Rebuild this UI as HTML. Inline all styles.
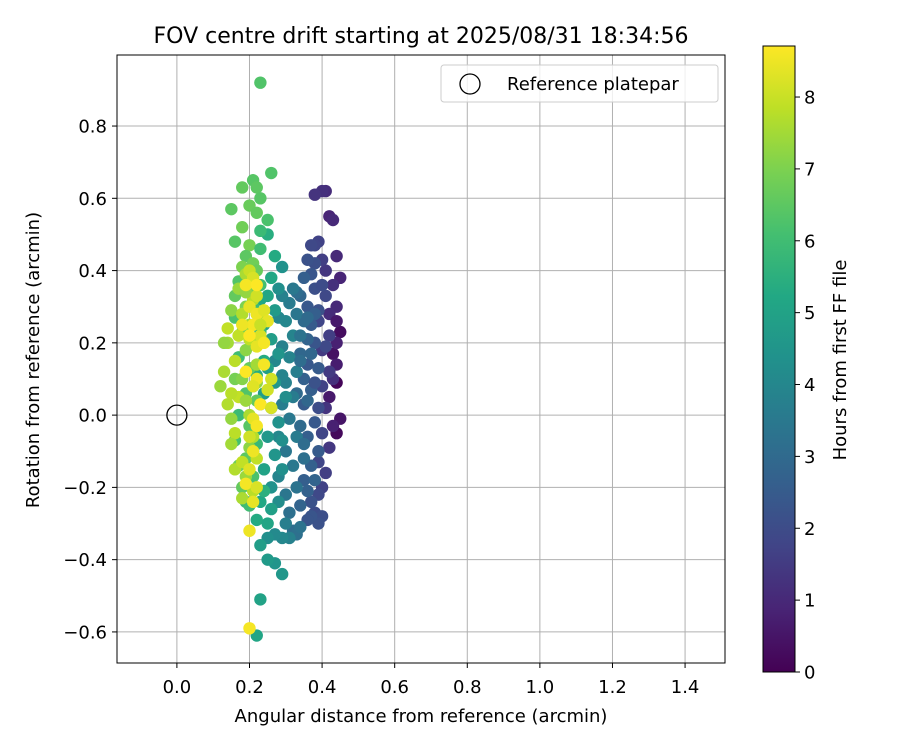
<!DOCTYPE html>
<html><head><meta charset="utf-8"><style>
body{margin:0;background:#fff;}
svg text{font-family:"DejaVu Sans","Liberation Sans",sans-serif;fill:#000;}
</style></head><body>
<svg id="chart" width="900" height="750" xmlns="http://www.w3.org/2000/svg">
<defs><linearGradient id="vir" x1="0" y1="1" x2="0" y2="0">
<stop offset="0" stop-color="#440154"/><stop offset="0.1" stop-color="#482475"/><stop offset="0.2" stop-color="#414487"/><stop offset="0.3" stop-color="#355f8d"/><stop offset="0.4" stop-color="#2a788e"/><stop offset="0.5" stop-color="#21918c"/><stop offset="0.6" stop-color="#22a884"/><stop offset="0.7" stop-color="#44bf70"/><stop offset="0.8" stop-color="#7ad151"/><stop offset="0.9" stop-color="#bddf26"/><stop offset="1" stop-color="#fde725"/>
</linearGradient>
<clipPath id="plotclip"><rect x="117" y="55" width="608" height="608"/></clipPath></defs>
<text x="421" y="43" font-size="22" text-anchor="middle">FOV centre drift starting at 2025/08/31 18:34:56</text>
<g id="grid"></g>
<g id="points" clip-path="url(#plotclip)"></g>
<rect x="117" y="55" width="608" height="608" fill="none" stroke="#000" stroke-width="1"/>
<g id="xticks"></g>
<g id="yticks"></g>
<text x="421" y="722" font-size="18" text-anchor="middle">Angular distance from reference (arcmin)</text>
<text transform="translate(39,360) rotate(-90)" font-size="18" text-anchor="middle">Rotation from reference (arcmin)</text>
<g>
<rect x="441" y="65" width="277" height="37" rx="3" fill="#fff" fill-opacity="0.8" stroke="#ccc"/>
<circle cx="470" cy="84" r="10" fill="none" stroke="#000" stroke-width="1.3"/>
<text x="507" y="90" font-size="18">Reference platepar</text>
</g>
<rect x="763" y="46" width="32" height="626" fill="url(#vir)" stroke="#000" stroke-width="1"/>
<g id="cticks"></g>
<text transform="translate(846,360) rotate(-90)" font-size="18" text-anchor="middle">Hours from first FF file</text>
</svg>
<script>
const distances=[0.44,0.44,0.45,0.43,0.45,0.42,0.44,0.43,0.45,0.42,0.43,0.44,0.41,0.40,0.38,0.44,0.42,0.44,0.43,0.41,0.42,0.43,0.41,0.44,0.42,0.40,0.41,0.40,0.39,0.40,0.39,0.38,0.37,0.42,0.40,0.39,0.41,0.38,0.39,0.40,0.41,0.39,
0.40,0.39,0.37,0.36,0.37,0.38,0.36,0.37,0.38,0.36,0.39,0.37,0.38,0.36,0.39,0.37,0.35,0.38,0.36,0.39,0.37,0.35,0.38,0.36,0.34,0.35,0.34,0.36,0.34,0.35,0.33,0.36,0.34,0.37,0.38,0.35,0.40,0.38,0.33,
0.32,0.33,0.34,0.31,0.30,0.33,0.32,0.30,0.33,0.31,0.29,0.32,0.30,0.33,0.31,0.29,0.32,0.30,0.33,0.31,0.29,0.34,0.35,0.28,0.30,0.31,0.29,0.28,0.27,0.34,0.35,0.28,0.32,0.36,0.29,
0.27,0.25,0.27,0.29,0.25,0.23,0.23,0.22,0.28,0.26,0.29,0.27,0.25,0.28,0.26,0.24,0.27,0.25,0.28,0.26,0.24,0.27,0.25,0.28,0.26,0.29,0.27,0.25,0.23,0.24,0.23,0.26,0.22,0.25,0.24,0.22,0.23,0.22,0.21,0.24,0.30,0.29,
0.26,0.23,0.21,0.22,0.18,0.23,0.20,0.15,0.25,0.22,0.18,0.23,0.16,0.20,0.23,0.19,0.21,0.18,0.22,0.17,0.20,0.23,0.16,0.19,0.22,0.16,0.18,0.21,0.17,0.20,0.16,0.19,0.22,0.17,0.20,0.16,0.19,0.21,0.18,0.19,0.20,0.22,0.21,0.23,0.21,0.17,
0.12,0.13,0.14,0.13,0.15,0.17,0.19,0.14,0.15,0.16,0.15,0.16,0.18,0.19,0.18,0.21,0.17,0.18,0.16,0.19,0.17,0.20,0.18,0.21,0.19,0.21,0.20,0.19,0.21,0.22,0.20,0.22,0.20,0.23,0.15,0.22,0.14,
0.20,0.21,0.22,0.20,0.22,0.24,0.21,0.23,0.20,0.22,0.24,0.22,0.21,0.25,0.23,0.26,0.21,0.22,0.20,0.21,0.20,0.19,0.22,0.21,0.20,0.20,0.19,0.18,0.25,0.19,0.23,0.24,0.22,0.26];
const rotations=[0.09,-0.05,0.23,0.17,-0.01,0.05,0.14,-0.03,0.38,0.55,0.54,0.30,0.62,0.62,0.61,0.44,0.28,0.20,0.10,0.02,-0.09,0.36,0.40,0.26,0.12,0.18,-0.16,-0.20,-0.13,0.43,0.48,0.47,0.47,0.22,0.08,0.26,0.33,-0.27,-0.22,-0.05,0.19,0.02,
-0.28,-0.30,-0.28,-0.29,-0.24,0.42,0.43,0.39,0.35,0.30,0.29,0.25,0.20,0.14,0.13,0.07,0.03,-0.02,-0.06,-0.10,-0.14,-0.18,-0.18,-0.21,-0.25,0.38,0.33,0.21,0.17,0.10,0.06,0.04,-0.03,0.17,0.28,0.26,0.36,0.09,0.34,
-0.32,-0.33,-0.31,-0.27,-0.22,-0.20,-0.14,-0.10,-0.06,-0.01,0.03,0.05,0.09,0.12,0.16,0.19,0.22,0.26,0.28,0.31,0.33,0.22,-0.12,-0.17,-0.30,-0.34,-0.34,0.27,0.15,0.15,-0.08,-0.06,0.35,0.27,0.11,
-0.33,-0.34,-0.41,-0.44,-0.40,-0.36,-0.51,-0.61,-0.24,-0.20,-0.15,-0.11,-0.06,-0.02,0.02,0.06,0.09,0.13,0.17,0.21,0.25,0.29,0.33,0.35,0.38,0.41,0.44,0.50,0.32,-0.15,-0.24,-0.26,-0.29,-0.30,0.15,0.11,0.03,-0.04,-0.10,-0.21,0.05,-0.07,
0.67,0.92,0.65,0.63,0.63,0.60,0.58,0.57,0.54,0.56,0.52,0.51,0.48,0.47,0.46,0.44,0.42,0.41,0.40,0.37,0.35,0.36,0.33,0.30,0.28,0.27,0.23,0.20,0.16,0.13,0.10,0.06,0.04,0.00,-0.03,-0.07,-0.12,-0.17,-0.20,-0.24,-0.25,-0.08,0.08,0.23,0.30,-0.14,
0.08,0.12,0.20,0.20,0.29,0.35,0.39,0.03,-0.01,-0.05,-0.08,-0.15,-0.13,-0.17,-0.23,-0.21,0.05,0.10,0.15,0.18,0.22,0.25,0.28,0.32,0.34,0.37,0.00,0.04,-0.06,-0.12,-0.09,0.14,0.21,0.26,0.06,0.09,0.24,
0.40,0.38,0.33,0.30,0.28,0.29,0.25,0.22,0.22,0.19,0.14,0.10,0.08,0.07,0.03,0.02,-0.01,-0.03,-0.06,-0.10,-0.15,-0.19,-0.20,-0.24,-0.32,-0.59,0.36,0.25,0.26,0.12,0.25,0.20,0.36,0.10];
const hours=[0.1,0.2,0.3,0.4,0.5,0.6,0.7,0.8,0.9,0.9,1.0,1.0,1.1,1.2,1.3,1.0,1.1,0.8,1.2,1.3,1.4,1.2,1.4,0.6,1.5,1.5,1.6,1.7,1.8,1.6,1.7,1.8,1.9,1.6,1.7,1.8,1.9,2.0,1.9,1.8,1.9,2.0,
2.1,2.2,2.3,2.3,2.2,2.1,2.2,2.3,2.1,2.4,2.2,2.5,2.3,2.4,2.5,2.6,2.5,2.4,2.6,2.5,2.7,2.6,2.8,2.7,2.8,2.6,2.9,2.8,2.9,2.7,3.0,2.9,3.0,2.9,2.6,3.0,2.0,2.2,3.1,
3.1,3.2,3.3,3.2,3.4,3.3,3.5,3.4,3.6,3.5,3.7,3.6,3.8,3.7,3.9,3.8,3.9,4.0,3.4,3.6,3.8,3.3,3.2,3.9,3.7,3.8,4.0,4.0,4.0,3.1,3.1,4.0,3.5,3.0,3.9,
4.1,4.3,4.5,4.6,4.7,4.8,5.0,5.1,4.2,4.4,4.3,4.5,4.6,4.4,4.7,4.8,4.6,4.9,4.5,4.8,5.0,4.7,5.1,4.3,5.2,4.4,5.3,5.4,5.2,5.0,5.2,4.9,5.3,5.1,5.3,5.4,5.5,5.4,5.5,5.5,4.2,4.3,
6.3,6.3,6.4,6.5,6.6,6.4,6.7,6.5,6.2,6.6,6.8,5.9,6.4,6.9,6.0,6.5,6.8,7.0,6.7,6.3,6.9,6.1,6.6,7.0,6.5,6.2,6.8,6.4,6.0,6.7,6.9,6.3,6.6,5.9,6.4,6.1,6.5,6.2,6.6,5.8,6.0,5.8,5.7,5.8,5.9,6.8,
7.4,7.6,7.5,7.3,7.2,7.4,7.6,7.7,7.3,7.8,7.5,7.7,7.9,7.4,7.6,7.8,7.9,7.1,7.8,7.2,7.9,7.5,7.7,7.8,7.3,7.9,7.6,7.4,7.7,7.9,7.2,7.5,7.9,7.7,7.8,7.3,7.9,
8.0,8.2,8.1,8.4,8.5,8.3,8.6,8.2,8.7,8.4,8.6,8.5,8.3,8.1,8.7,8.2,8.4,8.6,8.1,8.5,8.3,8.6,8.2,8.4,8.5,8.6,8.6,8.5,8.4,8.7,8.0,8.6,8.7,8.1];
const xTickLabels=["0.0","0.2","0.4","0.6","0.8","1.0","1.2","1.4"];
const yTickLabels=["−0.6","−0.4","−0.2","0.0","0.2","0.4","0.6","0.8"];
const cTickLabels=["0","1","2","3","4","5","6","7","8"];

const NS="http://www.w3.org/2000/svg";
const xMin=-0.165,xMax=1.51,yMin=-0.686,yMax=0.9966,hMax=8.71;
const X=v=>117+(v-xMin)/(xMax-xMin)*608;
const Y=v=>663-(v-yMin)/(yMax-yMin)*608;
const C=v=>672-v/hMax*626;
const stops=[[68,1,84],[72,36,117],[65,68,135],[53,95,141],[42,120,142],[33,145,140],[34,168,132],[68,191,112],[122,209,81],[189,223,38],[253,231,37]];
function vir(t){t=Math.max(0,Math.min(1,t))*10;const i=Math.min(9,Math.floor(t)),f=t-i,a=stops[i],b=stops[i+1];
return "rgb("+a.map((c,k)=>Math.round(c+(b[k]-c)*f)).join(",")+")";}
function mk(tag,attrs,parent){const e=document.createElementNS(NS,tag);for(const k in attrs)e.setAttribute(k,attrs[k]);parent.appendChild(e);return e;}
const grid=document.getElementById('grid'),xt=document.getElementById('xticks'),yt=document.getElementById('yticks'),ct=document.getElementById('cticks'),pts=document.getElementById('points');
xTickLabels.forEach(l=>{const v=parseFloat(l),px=X(v);
const g=mk('line',{x1:px,x2:px,y1:55,y2:663,stroke:'#b0b0b0','stroke-width':1},grid);


const t=mk('line',{x1:px,x2:px,y1:663,y2:668,stroke:'#000'},xt);


const tx=mk('text',{x:px,y:693,'font-size':18,'text-anchor':'middle'},xt);tx.textContent=l;

});
yTickLabels.forEach(l=>{const v=parseFloat(l.replace('−','-')),py=Y(v);
const g=mk('line',{x1:117,x2:725,y1:py,y2:py,stroke:'#b0b0b0','stroke-width':1},grid);


const t=mk('line',{x1:112,x2:117,y1:py,y2:py,stroke:'#000'},yt);


const tx=mk('text',{x:107,y:py+6.5,'font-size':18,'text-anchor':'end'},yt);tx.textContent=l;

});
cTickLabels.forEach(l=>{const py=C(parseFloat(l));
const t=mk('line',{x1:795,x2:800,y1:py,y2:py,stroke:'#000'},ct);


const tx=mk('text',{x:804,y:py+6.5,'font-size':18},ct);tx.textContent=l;

});
for(let i=0;i<distances.length;i++){
const c=mk('circle',{cx:X(distances[i]),cy:Y(rotations[i]),r:6.2,fill:vir(hours[i]/hMax)},pts);

}
const ref=mk('circle',{cx:X(0),cy:Y(0),r:10,fill:'none',stroke:'#000','stroke-width':1.3},pts);


</script>
</body></html>
